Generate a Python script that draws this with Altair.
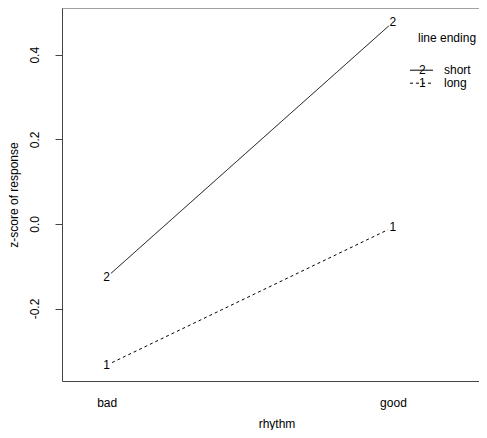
import altair as alt
import pandas as pd

# ---- data ----
rhythm = ["bad", "good"]
short_z = [-0.126, 0.477]
long_z = [-0.334, -0.008]
endings = ["short", "long"]
symbols = ["2", "1"]
y_ticks = [-0.2, 0.0, 0.2, 0.4]

series = {"short": short_z, "long": long_z}
rows = []
for ending, sym in zip(endings, symbols):
    for i, r in enumerate(rhythm):
        rows.append({"rhythm": r, "pos": i + 1, "ending": ending,
                     "sym": sym, "z": series[ending][i]})
df = pd.DataFrame(rows)

FONT = "Liberation Sans"
W, H = 417, 373
AX = "#444444"

label_expr = " : ".join(
    [f"datum.value == {i + 1} ? '{r}'" for i, r in enumerate(rhythm[:-1])]
    + [f"'{rhythm[-1]}'"]
)

xscale = alt.Scale(domain=[0.844, 2.3005], nice=False, zero=False)
yscale = alt.Scale(domain=[-0.3714, 0.5105], nice=False, zero=False)

base = alt.Chart(df).encode(
    x=alt.X("pos:Q", scale=xscale, title="rhythm",
            axis=alt.Axis(values=[i + 1 for i in range(len(rhythm))],
                          labelExpr=label_expr, ticks=False, tickSize=0,
                          domainColor=AX, labelPadding=25,
                          labelBaseline="alphabetic", labelFont=FONT,
                          labelFontSize=12, labelColor="black",
                          titleFont=FONT, titleFontSize=12,
                          titleFontWeight="normal", titleColor="black",
                          titleBaseline="alphabetic", titleAlign="center",
                          titleX=214.5, titleY=46, grid=False)),
    y=alt.Y("z:Q", scale=yscale, title="z-score of response",
            axis=alt.Axis(values=y_ticks,
                          labelExpr="replace(format(datum.value, '.1f'), '\u2212', '-')",
                          labelAngle=270, labelAlign="center",
                          labelBaseline="alphabetic", tickSize=7,
                          labelPadding=16.5, tickColor=AX, domainColor=AX,
                          labelFont=FONT, labelFontSize=12, labelColor="black",
                          titleFont=FONT, titleFontSize=12,
                          titleFontWeight="normal", titleColor="black",
                          titleAngle=270, titleX=-44.5, titleY=H / 2,
                          titleBaseline="alphabetic", titleAlign="center",
                          grid=False)),
)

dash_scale = alt.Scale(domain=endings, range=[[1, 0], [3, 3]])

lines = base.mark_line(color="black", strokeWidth=1).encode(
    strokeDash=alt.StrokeDash("ending:N", scale=dash_scale, legend=None),
    detail="ending:N",
)
masks = base.mark_point(shape="circle", filled=True, color="white",
                        size=130, opacity=1)
labels = base.mark_text(font=FONT, fontSize=12, color="black",
                        align="center", baseline="middle").encode(text="sym:N")

one = pd.DataFrame({"a": [0]})
top_border = alt.Chart(one).mark_rule(color=AX, strokeWidth=1).encode(
    x=alt.value(0), x2=alt.value(W), y=alt.value(0))

# ---- manual legend ----
legend_layers = [
    alt.Chart(one).mark_text(text="line ending", font=FONT, fontSize=12,
                             color="black", align="left",
                             baseline="middle").encode(
        x=alt.value(356), y=alt.value(30))
]
dashes = {"short": [1, 0], "long": [3, 3]}
for i, (ending, sym) in enumerate(zip(endings, symbols)):
    yy = 62.2 + 13 * i
    legend_layers.append(
        alt.Chart(one).mark_rule(color="black", strokeWidth=1,
                                 strokeDash=dashes[ending]).encode(
            x=alt.value(348), x2=alt.value(371), y=alt.value(yy)))
    legend_layers.append(
        alt.Chart(one).mark_text(text=sym, font=FONT, fontSize=12,
                                 color="black", align="center",
                                 baseline="middle").encode(
            x=alt.value(360.3), y=alt.value(yy)))
    legend_layers.append(
        alt.Chart(one).mark_text(text=ending, font=FONT, fontSize=12,
                                 color="black", align="left",
                                 baseline="middle").encode(
            x=alt.value(382), y=alt.value(yy)))

chart = alt.layer(lines, masks, labels, top_border, *legend_layers).properties(
    width=W, height=H,
    autosize=alt.AutoSizeParams(type="none"),
    padding={"left": 54, "top": 0, "right": 0, "bottom": 49},
).configure_view(stroke="transparent")

chart.save("out.html", embed_options={"renderer": "svg", "actions": False})
